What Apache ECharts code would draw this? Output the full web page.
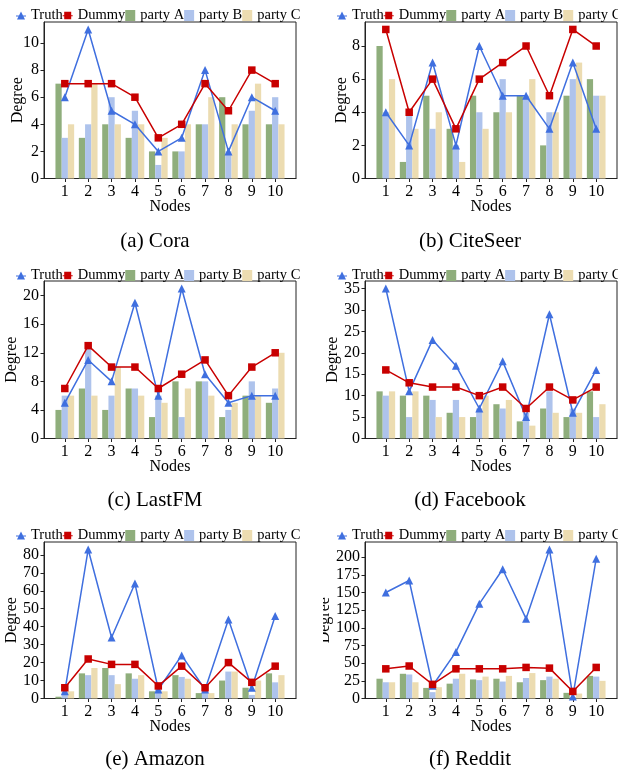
<!DOCTYPE html>
<html><head><meta charset="utf-8">
<script src="https://cdn.jsdelivr.net/npm/echarts@6/dist/echarts.min.js"></script>
<style>
html,body{margin:0;background:#fff;width:618px;height:778px;position:relative;overflow:hidden}
.p{position:absolute;overflow:hidden}
</style></head>
<body>
<div id="pa" class="p" style="left:0;top:0;width:323px;height:258px"></div>
<div id="pb" class="p" style="left:323px;top:0;width:420px;height:258px"></div>
<div id="pc" class="p" style="left:0;top:258px;width:323px;height:260px"></div>
<div id="pd" class="p" style="left:323px;top:258px;width:420px;height:260px"></div>
<div id="pe" class="p" style="left:0;top:518px;width:323px;height:260px"></div>
<div id="pf" class="p" style="left:323px;top:518px;width:420px;height:260px"></div>
<script>
// ---------- data ----------
const nodes = [1,2,3,4,5,6,7,8,9,10];

const coraTruth = [6,11,5,4,2,3,8,2,6,5];
const coraDummy = [7,7,7,6,3,4,7,5,8,7];
const coraA = [7,3,4,3,2,2,4,6,4,4];
const coraB = [3,4,6,5,1,2,4,2,5,6];
const coraC = [4,7,4,4,3,4,6,4,7,4];
const coraTicks = [0,2,4,6,8,10];

const citeTruth = [4,2,7,2,8,5,5,3,7,3];
const citeDummy = [9,4,6,3,6,7,8,5,9,8];
const citeA = [8,1,5,3,5,4,5,2,5,6];
const citeB = [4,4,3,2,4,6,5,4,6,5];
const citeC = [6,3,4,1,3,4,6,4,7,5];
const citeTicks = [0,2,4,6,8];

const lastTruth = [5,11,8,19,6,21,9,5,6,6];
const lastDummy = [7,13,10,10,7,9,11,6,10,12];
const lastA = [4,7,4,7,3,8,8,3,6,5];
const lastB = [6,13,6,7,6,3,8,4,8,7];
const lastC = [6,6,10,6,5,7,6,5,6,12];
const lastTicks = [0,4,8,12,16,20];

const fbTruth = [35,11,23,17,7,18,5,29,6,16];
const fbDummy = [16,13,12,12,10,12,7,12,9,12];
const fbA = [11,10,10,6,5,8,4,7,5,11];
const fbB = [10,5,9,9,7,7,6,11,7,5];
const fbC = [11,11,5,5,10,9,3,6,6,8];
const fbTicks = [0,5,10,15,20,25,30,35];

const amzTruth = [4,83,34,64,5,24,5,44,6,46];
const amzDummy = [6,22,19,19,7,18,6,20,9,18];
const amzA = [1,14,17,14,4,13,3,10,6,14];
const amzB = [4,13,13,11,5,12,4,15,2,9];
const amzC = [4,17,8,13,4,11,3,15,10,13];
const amzTicks = [0,10,20,30,40,50,60,70,80];

const redTruth = [150,167,18,66,134,183,113,211,3,198];
const redDummy = [42,46,20,42,42,42,44,43,10,44];
const redA = [28,35,15,21,27,28,23,26,8,32];
const redB = [23,34,9,28,26,24,29,31,2,31];
const redC = [23,23,16,35,31,32,36,28,7,25];
const redTicks = [0,25,50,75,100,125,150,175,200];

// ---------- style / layout ----------
const FONT = 'Liberation Serif';
const COL = {truth:'#3f6fdf', dummy:'#c80000', A:'#8fae7c', B:'#aec3ec', C:'#ecdcb1'};
const xMin = 0.11, xMax = 10.89;
const ICON_TRI = 'path://M0,10.2H20V11.8H0Z M10,2L18,18H2Z';
const ICON_SQ = 'path://M0,10.2H20V11.8H0Z M3,3H17V18H3Z';

const panels = [
  {id:'pa', caption:'(a) Cora', t:coraTruth, d:coraDummy, a:coraA, b:coraB, c:coraC, ticks:coraTicks,
   L:{lx:11, ly:3, gl:44, gt:22, gw:252, gh:156.5, ng:18, cx:155, cy:241}},
  {id:'pb', caption:'(b) CiteSeer', t:citeTruth, d:citeDummy, a:citeA, b:citeB, c:citeC, ticks:citeTicks,
   L:{lx:9, ly:3, gl:42, gt:22, gw:252, gh:156.5, ng:15, cx:147, cy:241}},
  {id:'pc', caption:'(c) LastFM', t:lastTruth, d:lastDummy, a:lastA, b:lastB, c:lastC, ticks:lastTicks,
   L:{lx:11, ly:5, gl:44, gt:23, gw:252, gh:157.5, ng:24.5, cx:155, cy:242}},
  {id:'pd', caption:'(d) Facebook', t:fbTruth, d:fbDummy, a:fbA, b:fbB, c:fbC, ticks:fbTicks,
   L:{lx:9, ly:5, gl:42, gt:23, gw:252, gh:157.5, ng:24.5, cx:147, cy:242}},
  {id:'pe', caption:'(e) Amazon', t:amzTruth, d:amzDummy, a:amzA, b:amzB, c:amzC, ticks:amzTicks,
   L:{lx:11, ly:5, gl:44, gt:24, gw:252, gh:156.5, ng:24.5, cx:155, cy:241}},
  {id:'pf', caption:'(f) Reddit', t:redTruth, d:redDummy, a:redA, b:redB, c:redC, ticks:redTicks,
   L:{lx:9, ly:5, gl:42, gt:24, gw:252, gh:156.5, ng:32, cx:147, cy:241}}
];

function pts(arr){ return nodes.map((n,i)=>[n, arr[i]]); }

function makeOption(p){
  const L = p.L;
  const ymax = Math.max(...p.t, ...p.d, ...p.a, ...p.b, ...p.c) * 1.05;
  const bw = L.gw / (xMax - xMin) * 0.8 / 3;
  const axisCol = '#222';
  const bar = (name, arr, color) => ({
    name, type:'bar', data:pts(arr), barWidth:bw, barGap:'0%',
    itemStyle:{color}, z:2
  });
  const line = (name, arr, color, symbol, size, z) => ({
    name, type:'line', data:pts(arr), symbol, symbolSize:size,
    itemStyle:{color}, lineStyle:{color, width:1.5}, z
  });
  return {
    animation:false,
    textStyle:{fontFamily:FONT},
    legend:{
      left:L.lx, top:L.ly, itemWidth:10, itemHeight:11, itemGap:0,
      width:600,
      textStyle:{fontSize:14.5, color:'#000', fontFamily:FONT},
      data:[{name:'Truth', icon:ICON_TRI},{name:'Dummy', icon:ICON_SQ},
            {name:'party A', icon:'rect'},{name:'party B', icon:'rect'},{name:'party C', icon:'rect'}]
    },
    grid:{left:L.gl, top:L.gt, width:L.gw, height:L.gh, show:true, borderColor:axisCol, borderWidth:1,
          containLabel:false, outerBoundsMode:'none'},
    xAxis:{
      type:'value', min:xMin, max:xMax,
      name:'Nodes', nameLocation:'middle', nameGap:20, nameMoveOverlap:false,
      nameTextStyle:{fontSize:16, color:'#000', fontFamily:FONT},
      axisLine:{show:true, onZero:false, lineStyle:{color:axisCol, width:1}},
      axisTick:{show:true, length:3.5, customValues:nodes, lineStyle:{color:axisCol}},
      axisLabel:{customValues:nodes, fontSize:16, color:'#000', margin:5, fontFamily:FONT},
      splitLine:{show:false}
    },
    yAxis:{
      type:'value', min:0, max:ymax,
      name:'Degree', nameLocation:'middle', nameGap:L.ng, nameMoveOverlap:false,
      nameTextStyle:{fontSize:16, color:'#000', fontFamily:FONT},
      axisLine:{show:true, lineStyle:{color:axisCol, width:1}},
      axisTick:{show:true, length:3.5, customValues:p.ticks, lineStyle:{color:axisCol}},
      axisLabel:{customValues:p.ticks, fontSize:16, color:'#000', margin:5, fontFamily:FONT},
      splitLine:{show:false}
    },
    series:[
      bar('party A', p.a, COL.A),
      bar('party B', p.b, COL.B),
      bar('party C', p.c, COL.C),
      line('Truth', p.t, COL.truth, 'triangle', 8, 5),
      line('Dummy', p.d, COL.dummy, 'rect', 7.5, 6)
    ],
    graphic:[{
      type:'text', x:L.cx, y:L.cy,
      style:{text:p.caption, align:'center', verticalAlign:'middle',
             font:'21px "Liberation Serif"', fill:'#000'}
    }]
  };
}

panels.forEach(p => {
  const chart = echarts.init(document.getElementById(p.id), null, {renderer:'canvas'});
  chart.setOption(makeOption(p));
});
</script>
</body></html>
